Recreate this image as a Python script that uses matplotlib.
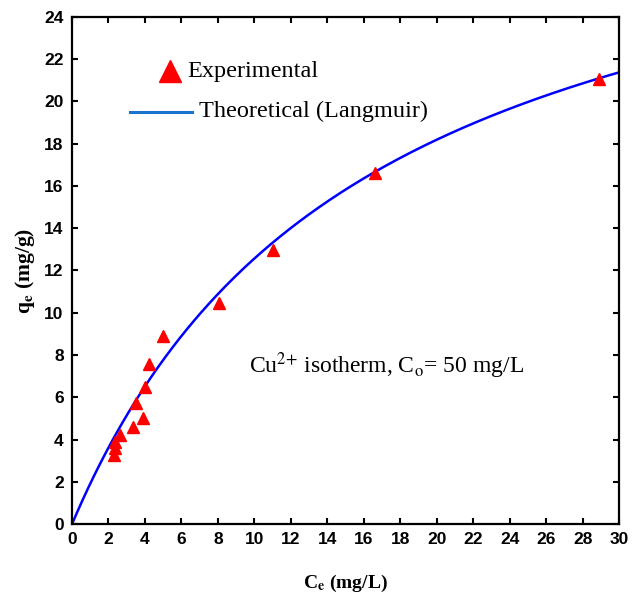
import numpy as np
import matplotlib
matplotlib.use("Agg")
import matplotlib.pyplot as plt

# Experimental data (Ce mg/L, qe mg/g)
ce_exp = [2.3, 2.36, 2.36, 2.63, 3.33, 3.5, 3.88, 4.0, 4.24, 5.0, 8.05, 11.0, 16.6, 28.9]
qe_exp = [3.27, 3.58, 3.9, 4.21, 4.6, 5.74, 5.03, 6.5, 7.56, 8.9, 10.45, 12.95, 16.6, 21.05]

# Langmuir model parameters
qm = 32.9
KL = 0.0618

xticks = list(range(0, 31, 2))
yticks = list(range(0, 25, 2))

plt.rcParams['mathtext.fontset'] = 'stix'

fig = plt.figure(figsize=(6.43, 5.99), dpi=100)
ax = fig.add_axes([0.112, 0.125, 0.851, 0.847])

c = np.linspace(0, 30, 300)
q = qm * KL * c / (1 + KL * c)
ax.plot(c, q, color='#0000ff', lw=1.8, zorder=2)
ax.plot(ce_exp, qe_exp, linestyle='none', marker='^', color='#ff0000', ms=9, zorder=3)

ax.set_xlim(0, 30)
ax.set_ylim(0, 24)
ax.set_xticks(xticks)
ax.set_yticks(yticks)
ax.tick_params(direction='in', top=True, right=True, length=4, width=1.5, pad=6)
for lab in ax.get_xticklabels() + ax.get_yticklabels():
    lab.set_fontfamily('Liberation Sans')
    lab.set_fontweight('bold')
    lab.set_fontsize(12.5)
for s in ax.spines.values():
    s.set_linewidth(1.6)

ax.set_xlabel(r'C$_{\mathbf{e}}$ (mg/L)', fontfamily='Liberation Serif', fontweight='bold', fontsize=14, labelpad=18)
ax.set_ylabel(r'q$_{\mathbf{e}}$ (mg/g)', fontfamily='Liberation Serif', fontweight='bold', fontsize=15.5, labelpad=5)

# Custom legend
ax.plot([0.179], [0.893], transform=ax.transAxes, marker='^', color='#ff0000', ms=16, clip_on=False)
ax.text(0.210, 0.893, 'Experimental', transform=ax.transAxes, fontfamily='Liberation Serif',
        fontsize=17.5, va='center', ha='left')
ax.plot([0.106, 0.219], [0.813, 0.813], transform=ax.transAxes, color='#1874cd', lw=2.2)
ax.text(0.232, 0.813, 'Theoretical (Langmuir)', transform=ax.transAxes, fontfamily='Liberation Serif',
        fontsize=17.5, va='center', ha='left')

ax.text(0.324, 0.312, r'Cu$^{2\!+}$$\!$ isotherm, C$_{\mathrm{o}}$= 50 mg/L', transform=ax.transAxes,
        fontfamily='Liberation Serif', fontsize=17, va='center', ha='left')

fig.savefig('out.png', dpi=100)
